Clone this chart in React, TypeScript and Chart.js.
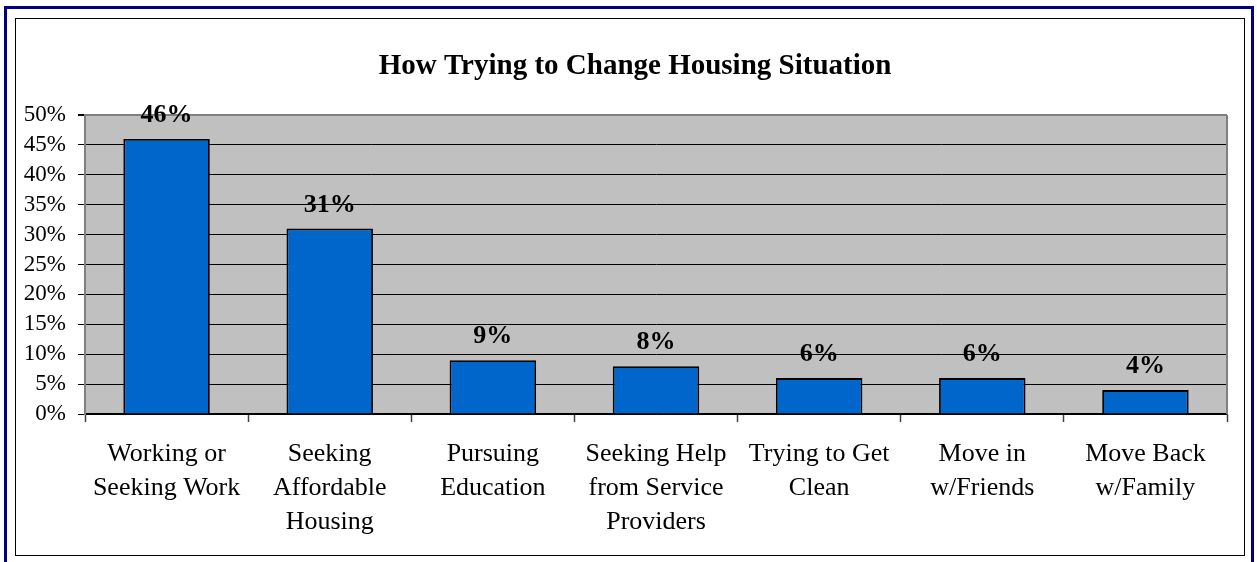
import React, { useEffect, useRef } from "react";
import { Chart, registerables } from "chart.js";

Chart.register(...registerables);

const categories: string[][] = [
  ["Working or", "Seeking Work"],
  ["Seeking", "Affordable", "Housing"],
  ["Pursuing", "Education"],
  ["Seeking Help", "from Service", "Providers"],
  ["Trying to Get", "Clean"],
  ["Move in", "w/Friends"],
  ["Move Back", "w/Family"],
];
const values: number[] = [46, 31, 9, 8, 6, 6, 4];
const titleText = "How Trying to Change Housing Situation";
const yMax = 50;
const yStep = 5;

const SERIF = "'Liberation Serif', 'Times New Roman', serif";

const plotBgPlugin = {
  id: "plotBg",
  beforeDraw(chart: any) {
    const { ctx, chartArea } = chart;
    ctx.save();
    ctx.fillStyle = "#C0C0C0";
    ctx.fillRect(chartArea.left, chartArea.top, chartArea.right - chartArea.left, chartArea.bottom - chartArea.top);
    ctx.restore();
  },
  beforeDatasetsDraw(chart: any) {
    const { ctx, chartArea } = chart;
    ctx.save();
    ctx.strokeStyle = "#808080";
    ctx.lineWidth = 2;
    ctx.beginPath();
    ctx.moveTo(chartArea.right, chartArea.top);
    ctx.lineTo(chartArea.right, chartArea.bottom);
    ctx.stroke();
    ctx.restore();
  },
};

const titlePlugin = {
  id: "customTitle",
  afterDraw(chart: any) {
    const { ctx } = chart;
    ctx.save();
    ctx.font = `bold 29px ${SERIF}`;
    ctx.fillStyle = "#000";
    ctx.textAlign = "center";
    ctx.textBaseline = "middle";
    ctx.fillText(titleText, chart.width / 2 + 5, 48);
    ctx.restore();
  },
};

const dataLabelPlugin = {
  id: "dataLabels",
  afterDatasetsDraw(chart: any) {
    const { ctx } = chart;
    const meta = chart.getDatasetMeta(0);
    ctx.save();
    ctx.font = `bold 26px ${SERIF}`;
    ctx.fillStyle = "#000";
    ctx.textAlign = "center";
    ctx.textBaseline = "alphabetic";
    meta.data.forEach((el: any, i: number) => {
      ctx.fillText(`${values[i]}%`, el.x, el.y - 17);
    });
    ctx.restore();
  },
};

export default function App() {
  const ref = useRef<HTMLCanvasElement | null>(null);

  useEffect(() => {
    if (!ref.current) return;
    const chart = new Chart(ref.current, {
      type: "bar",
      data: {
        labels: categories,
        datasets: [
          {
            data: values,
            backgroundColor: "#0066CC",
            borderColor: "#000",
            borderWidth: 1.8,
            categoryPercentage: 1,
            barPercentage: 0.53,
          },
        ],
      },
      options: {
        animation: false,
        responsive: false,
        maintainAspectRatio: false,
        layout: { padding: { left: 0, right: 17, top: 96, bottom: 0 } },
        plugins: {
          legend: { display: false },
          tooltip: { enabled: false },
          title: { display: false },
        },
        scales: {
          x: {
            grid: {
              display: true,
              drawOnChartArea: false,
              drawTicks: true,
              tickLength: 8,
              offset: true,
              tickColor: "#404040",
              tickWidth: 1.5,
            },
            border: { display: true, color: "#000", width: 1.5 },
            ticks: {
              color: "#000",
              font: { family: SERIF, size: 26, lineHeight: 1.31 },
              padding: 15,
              maxRotation: 0,
              autoSkip: false,
            },
            afterFit(scale: any) {
              scale.height = 141;
            },
          },
          y: {
            min: 0,
            max: yMax,
            grid: {
              color: (c: any) => (c.tick && c.tick.value === yMax ? "#808080" : "#000"),
              lineWidth: (c: any) => (c.tick && c.tick.value === yMax ? 2 : 1),
              tickColor: "#000",
              tickLength: 7,
            },
            border: { display: true, color: "#808080", width: 2 },
            ticks: {
              stepSize: yStep,
              autoSkip: false,
              color: "#000",
              font: { family: SERIF, size: 23, lineHeight: 1 },
              padding: 12,
              callback: (v: any) => `${v}%`,
            },
            afterFit(scale: any) {
              scale.width = 69;
            },
          },
        },
      },
      plugins: [plotBgPlugin, dataLabelPlugin, titlePlugin],
    });
    return () => chart.destroy();
  }, []);

  return (
    <div
      style={{
        position: "fixed",
        left: 0,
        top: 0,
        width: 1257,
        height: 562,
        overflow: "hidden",
        background: "#fff",
      }}
    >
      <div
        style={{
          position: "absolute",
          left: 4,
          top: 6,
          width: 1244,
          height: 620,
          border: "3px solid #000080",
          background: "#fff",
        }}
      />
      <div
        style={{
          position: "absolute",
          left: 15,
          top: 18,
          width: 1228,
          height: 536,
          border: "1px solid #000",
          background: "#fff",
        }}
      >
        <canvas ref={ref} width={1228} height={536} style={{ display: "block", width: 1228, height: 536 }} />
      </div>
    </div>
  );
}
